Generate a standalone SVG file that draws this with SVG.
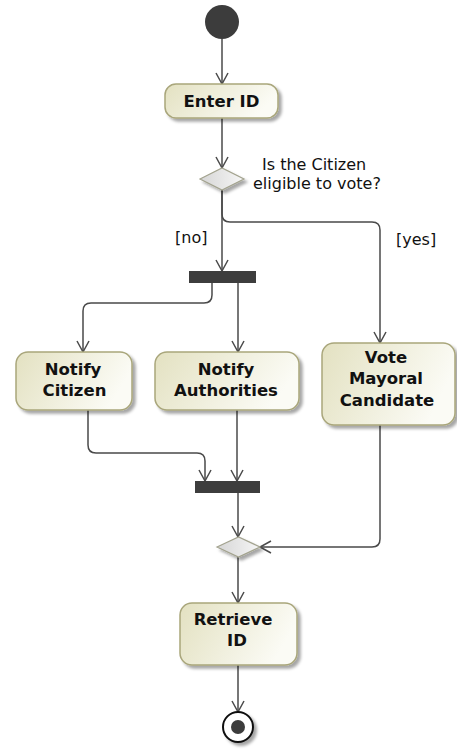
<svg xmlns="http://www.w3.org/2000/svg" width="457" height="750" viewBox="0 0 457 750">
  <defs>
    <linearGradient id="boxFill" x1="0" y1="0" x2="1" y2="0.3">
      <stop offset="0" stop-color="#e3e1c1"/>
      <stop offset="1" stop-color="#fbfbf5"/>
    </linearGradient>
    <linearGradient id="diaFill" x1="0" y1="0" x2="1" y2="0">
      <stop offset="0" stop-color="#d6d6d6"/>
      <stop offset="1" stop-color="#f6f6f6"/>
    </linearGradient>
    <filter id="shadow" x="-20%" y="-20%" width="150%" height="160%">
      <feDropShadow dx="3" dy="3" stdDeviation="1.5" flood-color="#000" flood-opacity="0.35"/>
    </filter>
    <marker id="arrow" markerUnits="userSpaceOnUse" markerWidth="14" markerHeight="14" viewBox="0 0 14 14" refX="12" refY="7" orient="auto">
      <path d="M1,1 L12,7 L1,13" fill="none" stroke="#4a4a4a" stroke-width="1.5"/>
    </marker>
  </defs>
  <style>
    .box { fill: url(#boxFill); stroke: #a9a67b; stroke-width: 1.5; filter: url(#shadow); }
    .dia { fill: url(#diaFill); stroke: #a3a38f; stroke-width: 1.2; filter: url(#shadow); }
    .bar { fill: #3d3d3d; }
    .lbl { font-family: "DejaVu Sans", sans-serif; font-weight: bold; font-size: 16.5px; fill: #111; text-anchor: middle; }
    .txt { font-family: "DejaVu Sans", sans-serif; font-size: 16px; fill: #111; }
    .edge { fill: none; stroke: #4a4a4a; stroke-width: 1.5; marker-end: url(#arrow); }
  </style>

  <g id="connectors">
    <path class="edge" d="M222,39 V84"/>
    <path class="edge" d="M222,118 V168"/>
    <path class="edge" d="M222,190 V271"/>
    <path class="edge" d="M222,190 V214 Q222,222 230,222 H372 Q380,222 380,230 V343"/>
    <path class="edge" d="M212,283 V295 Q212,303 204,303 H91 Q83,303 83,311 V352"/>
    <path class="edge" d="M238,283 V352"/>
    <path class="edge" d="M88,410 V445 Q88,453 96,453 H197 Q205,453 205,461 V481"/>
    <path class="edge" d="M237,410 V481"/>
    <path class="edge" d="M238,493 V537"/>
    <path class="edge" d="M380,425 V539 Q380,547 372,547 H260"/>
    <path class="edge" d="M238,557 V603"/>
    <path class="edge" d="M238,665 V712"/>
    <text class="txt" x="175" y="243">[no]</text>
    <text class="txt" x="396" y="245">[yes]</text>
  </g>

  <g id="initial">
    <circle cx="222" cy="22" r="17" fill="#3c3c3c"/>
  </g>

  <g id="enterId">
    <rect class="box" x="165" y="84" width="113" height="34" rx="11"/>
    <text class="lbl" x="221.5" y="107">Enter ID</text>
  </g>

  <g id="decision">
    <polygon class="dia" points="200,179 222,168 244,179 222,190"/>
    <text class="txt" x="262" y="170">Is the Citizen</text>
    <text class="txt" x="253" y="189">eligible to vote?</text>
  </g>

  <g id="fork">
    <rect class="bar" x="189" y="271" width="67" height="12"/>
  </g>

  <g id="notifyCitizen">
    <rect class="box" x="16" y="352" width="116" height="58" rx="12"/>
    <text class="lbl" x="73" y="375">Notify</text>
    <text class="lbl" x="74.5" y="396">Citizen</text>
  </g>

  <g id="notifyAuthorities">
    <rect class="box" x="155" y="352" width="144" height="58" rx="12"/>
    <text class="lbl" x="226" y="375">Notify</text>
    <text class="lbl" x="226" y="396">Authorities</text>
  </g>

  <g id="voteMayoralCandidate">
    <rect class="box" x="322" y="343" width="133" height="82" rx="12"/>
    <text class="lbl" x="386" y="363">Vote</text>
    <text class="lbl" x="386" y="384">Mayoral</text>
    <text class="lbl" x="387" y="406">Candidate</text>
  </g>

  <g id="join">
    <rect class="bar" x="195" y="481" width="65" height="12"/>
  </g>

  <g id="merge">
    <polygon class="dia" points="217,547 238.5,537 260,547 238.5,557"/>
  </g>

  <g id="retrieveId">
    <rect class="box" x="180" y="603" width="117" height="62" rx="12"/>
    <text class="lbl" x="233" y="625">Retrieve</text>
    <text class="lbl" x="237" y="646">ID</text>
  </g>

  <g id="final">
    <circle cx="238" cy="727" r="15" fill="#fff" stroke="#111" stroke-width="2" filter="url(#shadow)"/>
    <circle cx="238" cy="727" r="7" fill="#3c3c3c"/>
  </g>
</svg>
